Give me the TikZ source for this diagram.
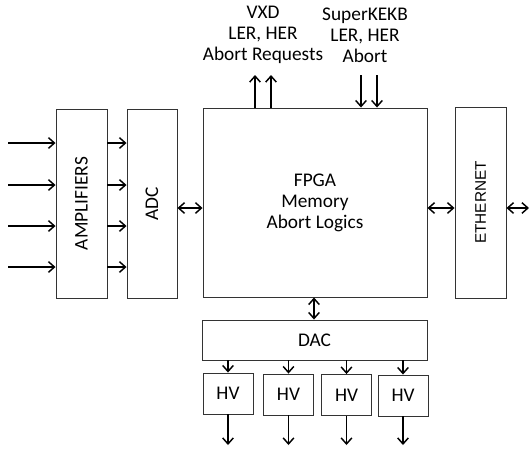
\documentclass[tikz,border=0pt]{standalone}
\usepackage{fontspec}
\setmainfont{Carlito}
\newfontfamily\ethfont{Liberation Sans}
\usetikzlibrary{positioning,arrows.meta}

\begin{document}
\begin{tikzpicture}[
      x=0.75pt, y=-0.75pt,
      font=\fontsize{14.5pt}{15.75pt}\selectfont,
      blk/.style={
        rectangle,
        draw=black!80,
        line width=0.7pt,
        inner sep=0pt
      },
      txt/.style={
        align=center,
        inner sep=0pt
      },
      arr/.style={
        line width=1.1pt,
        -{Straight Barb[length=4.5pt,width=8pt]}
      },
      dbl/.style={
        line width=1.1pt,
        {Straight Barb[length=4.5pt,width=8pt]}-{Straight Barb[length=4.5pt,width=8pt]}
      }
    ]
      \useasboundingbox (0,0) rectangle (530,451);

      \node[blk, minimum width=38.25pt, minimum height=141.75pt]
        (amp) at (81.5,203.5) {\rotatebox{90}{AMPLIFIERS}};
      \node[blk, minimum width=37.5pt, minimum height=141.75pt]
        (adc) at (152,203.5) {\rotatebox{90}{ADC}};
      \node[blk, minimum width=168pt, minimum height=141.75pt, align=center]
        (fpga) at (315,202.5) {FPGA\\Memory\\Abort Logics};
      \node[blk, minimum width=38.25pt, minimum height=143.25pt]
        (eth) at (480.5,202.5) {\rotatebox{90}{\ethfont\fontsize{11.5pt}{13pt}\selectfont ETHERNET}};

      \node[blk, minimum width=168.75pt, minimum height=30pt]
        (dac) at (314.5,340) {DAC};

      \node[blk, minimum width=37.5pt, minimum height=30.75pt]
        (hv1) at (228,393.5) {HV};
      \node[blk, minimum width=37.5pt, minimum height=30.75pt]
        (hv2) at (288.5,394.5) {HV};
      \node[blk, minimum width=37.5pt, minimum height=30.75pt]
        (hv3) at (346.5,395) {HV};
      \node[blk, minimum width=37.5pt, minimum height=30.75pt]
        (hv4) at (403,395.5) {HV};

      % labels on top
      \node[txt] (vxd) at (263,35) {VXD\\LER, HER\\Abort Requests};
      \node[txt] (kekb) at (365,35) {SuperKEKB\\LER, HER\\Abort};

      % inputs to the amplifiers
      \coordinate (in1) at (8,143);
      \coordinate (in2) at (8,185);
      \coordinate (in3) at (8,226);
      \coordinate (in4) at (8,267);

      \draw[arr] (in1) -- (in1 -| amp.west);
      \draw[arr] (in2) -- (in2 -| amp.west);
      \draw[arr] (in3) -- (in3 -| amp.west);
      \draw[arr] (in4) -- (in4 -| amp.west);

      \draw[arr] (in1 -| amp.east) -- (in1 -| adc.west);
      \draw[arr] (in2 -| amp.east) -- (in2 -| adc.west);
      \draw[arr] (in3 -| amp.east) -- (in3 -| adc.west);
      \draw[arr] (in4 -| amp.east) -- (in4 -| adc.west);

      % data path
      \coordinate (mid) at (0,208);
      \coordinate (out) at (529,208);
      \draw[dbl] (mid -| adc.east) -- (mid -| fpga.west);
      \draw[dbl] (mid -| fpga.east) -- (mid -| eth.west);
      \draw[dbl] (mid -| eth.east) -- (out);
      \draw[dbl] (fpga.south -| 314,0) -- (dac.north -| 314,0);

      % abort lines
      \coordinate (up1) at (255,75);
      \coordinate (up2) at (271,75);
      \coordinate (dn1) at (361,75);
      \coordinate (dn2) at (377,75);
      \draw[arr] (fpga.north -| up1) -- (up1);
      \draw[arr] (fpga.north -| up2) -- (up2);
      \draw[arr] (dn1) -- (fpga.north -| dn1);
      \draw[arr] (dn2) -- (fpga.north -| dn2);

      % DAC to HV
      \draw[arr] (dac.south -| hv1) -- (hv1.north);
      \draw[arr] (dac.south -| hv2) -- (hv2.north);
      \draw[arr] (dac.south -| hv3) -- (hv3.north);
      \draw[arr] (dac.south -| hv4) -- (hv4.north);

      \coordinate (o1) at (228,445);
      \coordinate (o2) at (288.5,445);
      \coordinate (o3) at (346.5,445);
      \coordinate (o4) at (403,445);
      \draw[arr] (hv1.south) -- (o1);
      \draw[arr] (hv2.south) -- (o2);
      \draw[arr] (hv3.south) -- (o3);
      \draw[arr] (hv4.south) -- (o4);
    \end{tikzpicture}
\end{document}
